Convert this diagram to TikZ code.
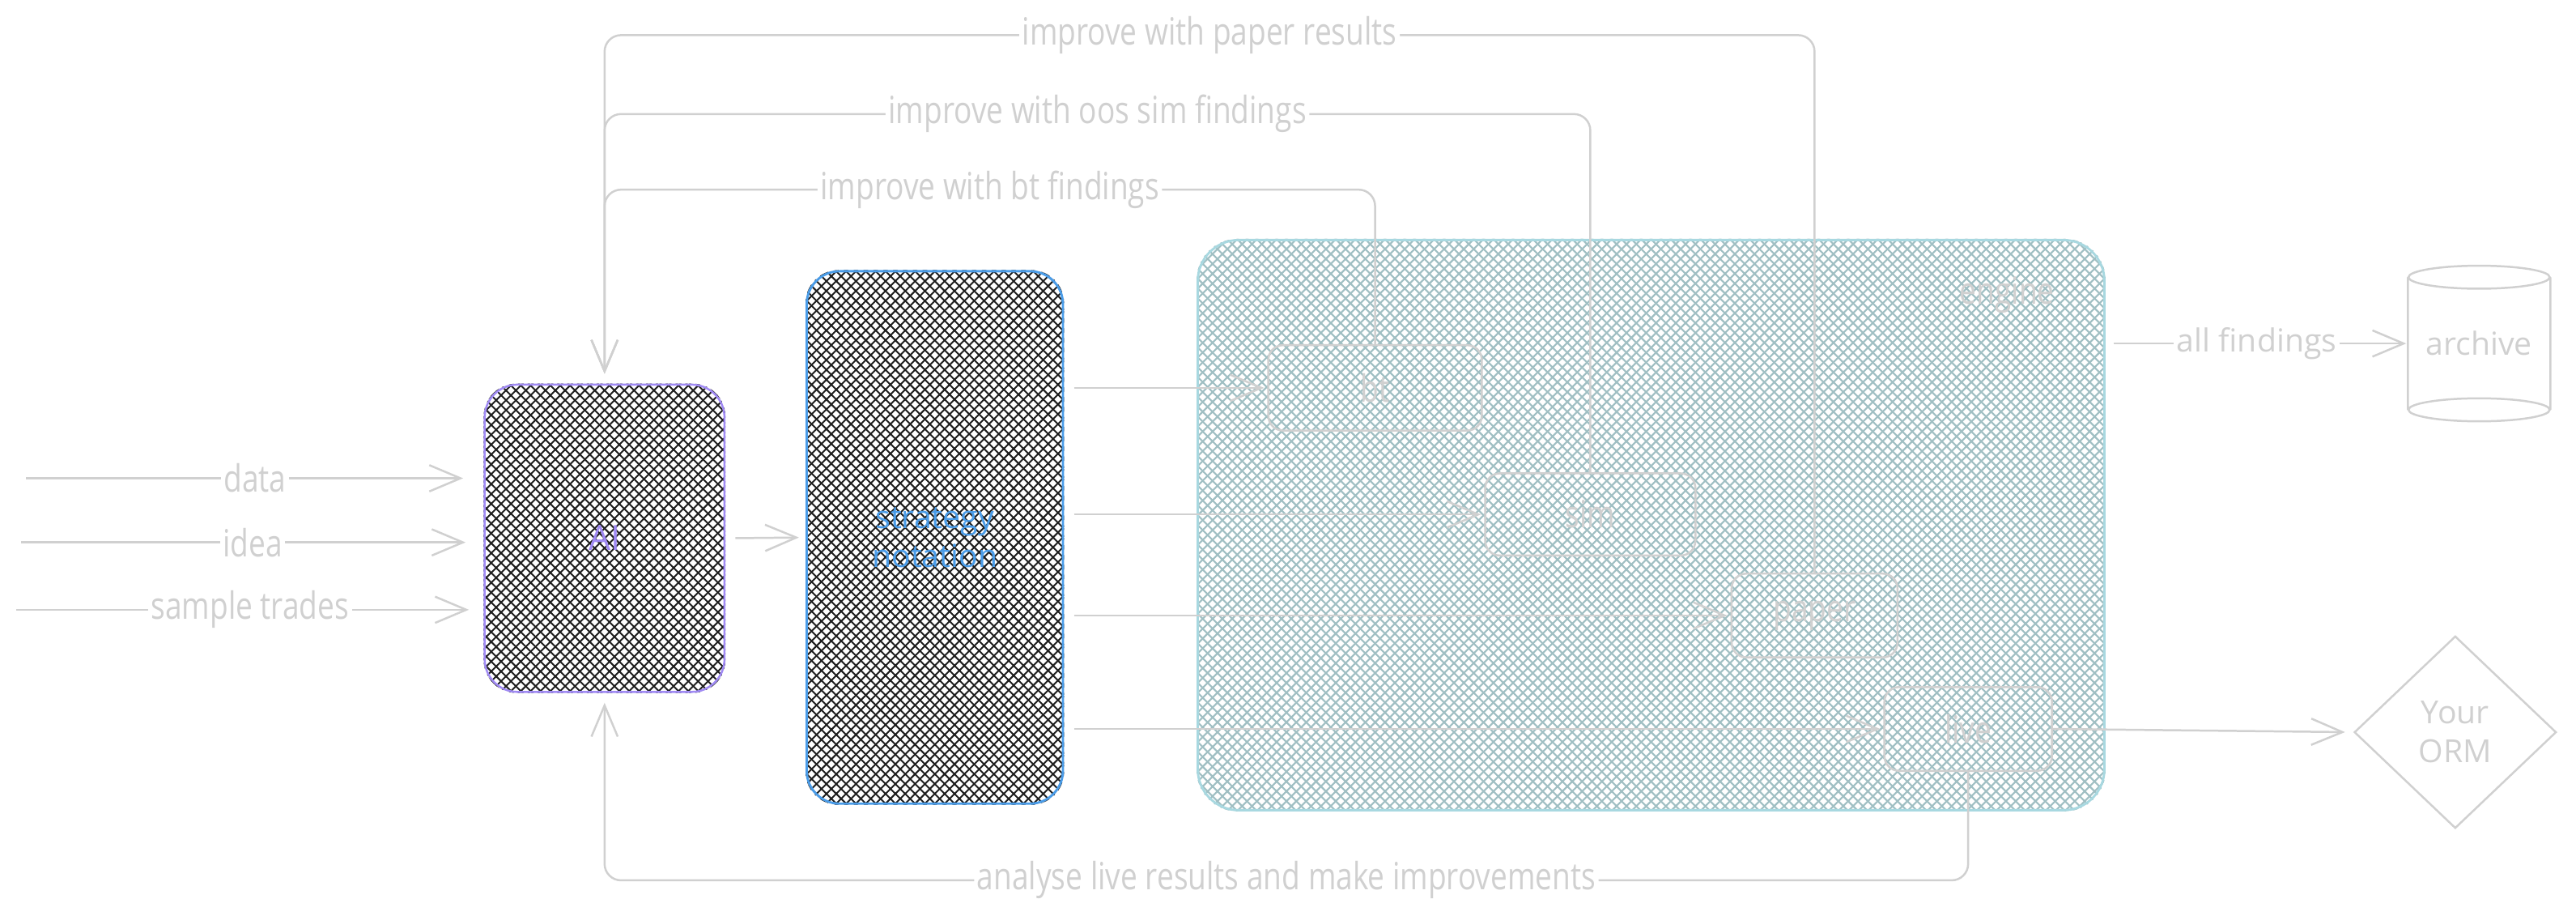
\documentclass[tikz,border=0pt]{standalone}
\usepackage{fontspec}
\setmainfont{Open Sans}
\newfontfamily\condfont[FakeStretch=0.8]{Open Sans}
\usepackage{xcolor}
\usepackage{tikz}
\usetikzlibrary{arrows.meta,calc,positioning,shapes.geometric,backgrounds}
\definecolor{ink}{HTML}{1E1E1E}
\definecolor{aiviolet}{HTML}{A08AF4}
\definecolor{notblue}{HTML}{4A9CE8}
\definecolor{enginecyan}{HTML}{A8D8E0}
\definecolor{enginehatch}{HTML}{A0BFC3}
\definecolor{faint}{HTML}{D0D0D0}
\newcommand{\hachure}[5]{%
  \begin{scope}
    \clip[rounded corners=#3] (#1.south west) rectangle (#1.north east);
    \foreach \k in {-#4,...,#4}{
      \draw[#2,line width=#5] ([xshift=\k*0.12cm-8cm,yshift=-8cm]#1.center) -- ++(16cm,16cm);
      \draw[#2,line width=#5] ([xshift=\k*0.12cm-8cm,yshift=8cm]#1.center) -- ++(16cm,-16cm);
    }
  \end{scope}}

\begin{document}
\begin{tikzpicture}[x=0.02cm,y=-0.02cm,>={Straight Barb[length=0.38cm,width=0.32cm]},
  flow/.style={draw=faint,line width=0.7pt,->},
  cond/.style={font=\condfont\fontsize{13}{15}\selectfont,text=faint},
  plain/.style={font=\fontsize{11}{13.5}\selectfont,text=faint},
  onwire/.style={fill=white,inner sep=1pt},
  part/.style={draw=faint,line width=0.7pt,rounded corners=0.18cm,cond}]
\useasboundingbox (0,0) rectangle (1568,557);

\node[draw=aiviolet,line width=0.7pt,rounded corners=0.4cm,minimum width=2.92cm,minimum height=3.74cm,
  text=aiviolet,font=\fontsize{12}{14}\selectfont] (ai) at (368,327.5) {AI};
\node[draw=notblue,line width=0.8pt,rounded corners=0.4cm,minimum width=3.12cm,minimum height=6.48cm,
  text=notblue,align=center,font=\fontsize{11}{13.5}\selectfont] (notation) at (569,327) {strategy\\notation};
\node[draw=enginecyan,line width=0.8pt,rounded corners=0.5cm,minimum width=11.04cm,minimum height=6.94cm] (engine) at (1005,319.5) {};
\node[cond] (enginetitle) at ([xshift=-1.2cm,yshift=-0.68cm]engine.north east) {engine};

\node[part,minimum width=2.6cm,minimum height=1.04cm] (bt) at (837,236) {bt};
\node[part,minimum width=2.56cm,minimum height=1cm] (sim) at (968,313) {sim};
\node[part,minimum width=2.02cm,minimum height=1.02cm] (paper) at (1104.5,374.5) {paper};
\node[part,minimum width=2.04cm,minimum height=1.02cm] (live) at (1198,443.5) {live};

\node[plain,minimum width=1.72cm,minimum height=1.88cm] (archive) at (1509,209) {archive};
\draw[faint,line width=0.7pt] ([yshift=-0.14cm]archive.north) ellipse (0.86cm and 0.14cm)
  ([yshift=0.14cm]archive.south) ellipse (0.86cm and 0.14cm)
  ([yshift=-0.14cm]archive.north west) -- ([yshift=0.14cm]archive.south west)
  ([yshift=-0.14cm]archive.north east) -- ([yshift=0.14cm]archive.south east);
\node[plain,draw=faint,line width=0.7pt,diamond,minimum width=2.46cm,minimum height=2.34cm,
  inner sep=0pt,align=center] (orm) at (1494.5,445.5) {Your\\ORM};

\begin{scope}[on background layer]
\hachure{ai}{ink}{0.4cm}{30}{.55pt}
\hachure{notation}{ink}{0.4cm}{42}{.55pt}
\hachure{engine}{enginehatch}{0.5cm}{80}{.6pt}
\end{scope}

\coordinate (datain) at (16,291);
\coordinate (ideain) at (13,330);
\coordinate (tradesin) at (10,371);
\draw[flow,shorten >=0.25cm] (datain) -- (datain -| ai.west) node[cond,onwire,midway]{data};
\draw[flow,shorten >=0.22cm] (ideain) -- (ideain -| ai.west) node[cond,onwire,midway]{idea};
\draw[flow,shorten >=0.18cm] (tradesin) -- (tradesin -| ai.west) node[cond,onwire,midway]{sample trades};
\draw[flow,shorten <=0.12cm,shorten >=0.08cm] (ai.east) -- (notation.west);
\foreach \t in {bt,sim,paper,live}
  \draw[flow,shorten <=0.12cm,shorten >=0.04cm] (notation.east |- \t.west) -- (\t.west);

\draw[flow,rounded corners=0.2cm,shorten >=0.12cm] (bt.north) -- ++(0,-94) -| (ai.north)
  node[cond,onwire,pos=0.25]{improve with bt findings};
\draw[flow,rounded corners=0.2cm,shorten >=0.12cm] (sim.north) -- ++(0,-218) -| (ai.north)
  node[cond,onwire,pos=0.25]{improve with oos sim findings};
\draw[flow,rounded corners=0.2cm,shorten >=0.12cm] (paper.north) -- ++(0,-327) -| (ai.north)
  node[cond,onwire,pos=0.25]{improve with paper results};
\draw[flow,rounded corners=0.2cm,shorten >=0.12cm] (live.south) -- ++(0,66) -| (ai.south)
  node[cond,onwire,pos=0.25]{analyse live results and make improvements};

\draw[flow,shorten <=0.1cm,shorten >=0.02cm] (engine.east |- archive.west) -- (archive.west)
  node[plain,onwire,midway]{all findings};
\draw[flow,shorten >=0.1cm] (live.east) -- (orm.west);
\end{tikzpicture}
\end{document}
